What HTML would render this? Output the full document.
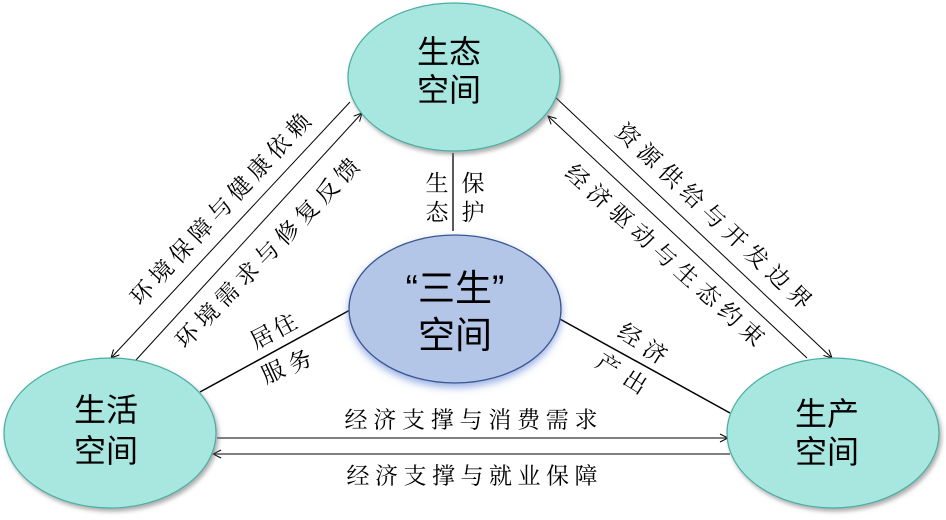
<!DOCTYPE html>
<html><head><meta charset="utf-8"><style>
html,body{margin:0;padding:0;background:#fff;}
svg{display:block;}
.big{font-family:"Liberation Sans","Noto Sans CJK SC",sans-serif;fill:#000;}
.s{font-family:"Liberation Serif","Noto Serif CJK SC",serif;font-size:23px;fill:#000;}
</style></head><body>
<svg width="946" height="520" viewBox="0 0 946 520" xmlns="http://www.w3.org/2000/svg">
<defs>
<marker id="ar" markerWidth="10" markerHeight="10" refX="9" refY="5" orient="auto" markerUnits="userSpaceOnUse">
<path d="M1,1 L9,5 L1,9" fill="none" stroke="#000" stroke-width="1"/>
</marker>
<filter id="sh" x="-10%" y="-10%" width="125%" height="130%">
<feDropShadow dx="2" dy="3" stdDeviation="2" flood-color="#777" flood-opacity="0.6"/>
</filter>
<filter id="gl" x="-10%" y="-10%" width="125%" height="135%">
<feDropShadow dx="0" dy="4" stdDeviation="4" flood-color="#4a6fd0" flood-opacity="0.55"/>
</filter>
</defs>

<!-- connectors -->
<g stroke="#000" fill="none" stroke-width="1">
<line x1="350" y1="102" x2="111" y2="358" marker-end="url(#ar)"/>
<line x1="136" y1="360" x2="362" y2="113" marker-end="url(#ar)"/>
<line x1="553" y1="95" x2="832" y2="358" marker-end="url(#ar)"/>
<line x1="807" y1="358" x2="548" y2="116" marker-end="url(#ar)"/>
<line x1="217" y1="438" x2="728" y2="438" marker-end="url(#ar)"/>
<line x1="730" y1="454" x2="213" y2="454" marker-end="url(#ar)"/>
<line x1="453" y1="153" x2="453" y2="231" stroke-width="1.3"/>
<line x1="200" y1="392" x2="350" y2="310" stroke-width="1.5"/>
<line x1="558" y1="318" x2="730" y2="413" stroke-width="1.5"/>
</g>

<!-- ellipses -->
<ellipse cx="454" cy="77" rx="106" ry="74" fill="#a8e7e0" stroke="#4aaea2" stroke-width="1.2" filter="url(#sh)"/>
<ellipse cx="110" cy="433" rx="106" ry="75" fill="#a8e7e0" stroke="#4aaea2" stroke-width="1.2" filter="url(#sh)"/>
<ellipse cx="833" cy="433" rx="106" ry="75" fill="#a8e7e0" stroke="#4aaea2" stroke-width="1.2" filter="url(#sh)"/>
<ellipse cx="455" cy="309" rx="106" ry="74" fill="#b4c6e8" stroke="#3a5790" stroke-width="1.3" filter="url(#gl)"/>

<!-- ellipse labels -->
<g class="big" text-anchor="middle">
<text x="449" y="63" font-size="32">生态</text>
<text x="449" y="101" font-size="32">空间</text>
<text x="106" y="421" font-size="32">生活</text>
<text x="106" y="462" font-size="32">空间</text>
<text x="827" y="425" font-size="32">生产</text>
<text x="827" y="463" font-size="32">空间</text>
<text x="455" y="301" font-size="37">“三生”</text>
<text x="455" y="348" font-size="37">空间</text>
</g>

<!-- bottom labels -->
<g class="s" text-anchor="middle">
<text y="427.5" x="356 384.75 413.5 442.25 471 499.75 528.5 557.25 586">经济支撑与消费需求</text>
<text y="483.5" x="358 386.5 415 443.5 472 500.5 529 557.5 586">经济支撑与就业保障</text>
<!-- vertical -->
<text x="437" y="191">生</text>
<text x="437" y="220">态</text>
<text x="473" y="191">保</text>
<text x="473" y="220">护</text>
</g>

<!-- diagonal labels -->
<g class="s" text-anchor="middle">
<g transform="translate(220,209) rotate(-47)">
<text y="8.3" x="-114.4 -85.8 -57.2 -28.6 0 28.6 57.2 85.8 114.4">环境保障与健康依赖</text>
</g>
<g transform="translate(267,253) rotate(-46)">
<text y="8.3" x="-115 -86.25 -57.5 -28.75 0 28.75 57.5 86.25 115">环境需求与修复反馈</text>
</g>
<g transform="translate(714,216) rotate(43.3)">
<text y="8.3" x="-118 -88.5 -59 -29.5 0 29.5 59 88.5 118">资源供给与开发边界</text>
</g>
<g transform="translate(665,255) rotate(42)">
<text y="8.3" x="-117.6 -88.2 -58.8 -29.4 0 29.4 58.8 88.2 117.6">经济驱动与生态约束</text>
</g>

<g transform="translate(262,337) rotate(-28)"><text y="8">居</text></g>
<g transform="translate(285,325) rotate(-28)"><text y="8">住</text></g>
<g transform="translate(273,372) rotate(-25)"><text y="8">服</text></g>
<g transform="translate(300,361) rotate(-25)"><text y="8">务</text></g>

<g transform="translate(630,335) rotate(32)"><text y="8">经</text></g>
<g transform="translate(655,352) rotate(32)"><text y="8">济</text></g>
<g transform="translate(608,365) rotate(32)"><text y="8">产</text></g>
<g transform="translate(635,382) rotate(32)"><text y="8">出</text></g>
</g>
</svg>
</body></html>
